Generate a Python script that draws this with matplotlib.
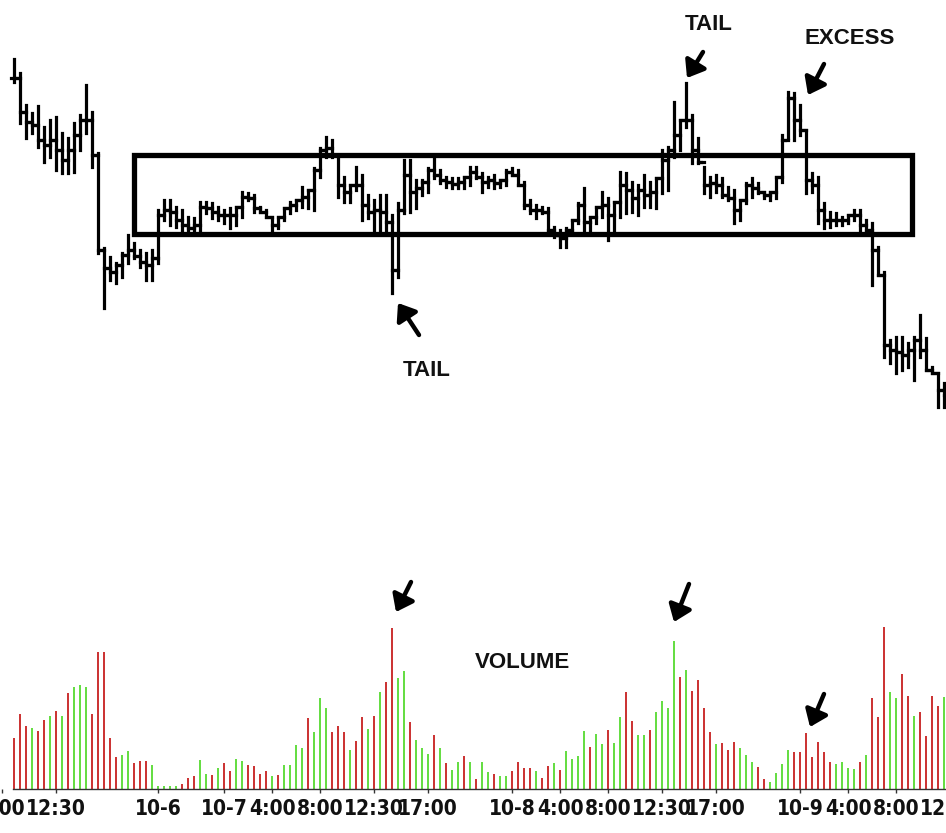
import numpy as np
import matplotlib
matplotlib.use("Agg")
import matplotlib.pyplot as plt
from matplotlib import font_manager
from matplotlib.patches import Rectangle
from matplotlib.text import Annotation

# 30-minute bars, price in points, open = previous close
high = [361, 347, 315, 307, 314, 293, 300, 303, 287, 282,
        297, 305, 335, 308, 267, 172, 163, 157, 167, 185,
        177, 170, 167, 170, 210, 220, 220, 213, 210, 203,
        202, 218, 218, 217, 213, 210, 212, 213, 228, 227,
        225, 213, 210, 203, 203, 212, 218, 220, 233, 230,
        252, 272, 283, 280, 262, 243, 235, 253, 245, 225,
        220, 225, 225, 205, 217, 260, 260, 240, 240, 252,
        263, 250, 243, 242, 242, 243, 253, 253, 247, 243,
        245, 240, 250, 252, 250, 238, 220, 215, 213, 212,
        193, 190, 192, 200, 217, 232, 203, 213, 228, 222,
        218, 248, 247, 238, 235, 245, 238, 242, 270, 273,
        318, 300, 337, 305, 282, 253, 243, 245, 242, 233,
        230, 220, 237, 242, 237, 228, 228, 243, 285, 328,
        327, 315, 290, 247, 243, 217, 208, 207, 203, 205,
        210, 210, 200, 197, 173, 148, 80, 83, 83, 77,
        83, 105, 82, 53, 47, 37]
low = [338, 297, 282, 287, 273, 258, 263, 250, 247, 247,
       248, 270, 287, 253, 167, 112, 140, 137, 143, 157,
       162, 153, 140, 140, 157, 200, 195, 193, 190, 187,
       187, 188, 207, 202, 200, 197, 192, 195, 203, 220,
       208, 208, 203, 190, 192, 200, 207, 210, 213, 212,
       210, 243, 263, 263, 223, 218, 218, 230, 200, 202,
       190, 190, 190, 127, 143, 207, 208, 212, 225, 228,
       242, 237, 233, 232, 232, 232, 235, 242, 228, 233,
       232, 233, 235, 245, 235, 212, 207, 202, 207, 188,
       183, 173, 173, 187, 197, 190, 188, 197, 203, 180,
       190, 203, 207, 208, 205, 213, 213, 212, 227, 230,
       263, 270, 293, 257, 257, 227, 223, 228, 223, 220,
       197, 200, 217, 223, 227, 222, 220, 222, 238, 282,
       280, 285, 227, 228, 197, 192, 193, 195, 195, 197,
       200, 187, 187, 135, 145, 63, 57, 47, 50, 53,
       40, 63, 50, 47, 13, 13]
close = [342, 308, 298, 295, 280, 275, 280, 270, 260, 270,
         285, 300, 300, 265, 170, 152, 148, 155, 165, 170,
         164, 158, 155, 162, 205, 210, 208, 200, 195, 192,
         195, 213, 212, 208, 205, 205, 205, 213, 223, 222,
         212, 208, 203, 195, 203, 212, 215, 220, 223, 230,
         250, 270, 272, 265, 235, 228, 235, 235, 215, 208,
         210, 208, 198, 150, 210, 245, 228, 232, 238, 250,
         245, 240, 238, 236, 238, 243, 248, 243, 238, 240,
         237, 240, 248, 245, 235, 215, 210, 210, 208, 190,
         185, 182, 190, 200, 215, 198, 203, 213, 215, 205,
         218, 235, 230, 222, 230, 225, 228, 242, 260, 270,
         285, 300, 300, 270, 258, 235, 237, 235, 225, 222,
         210, 220, 235, 232, 228, 225, 228, 243, 280, 322,
         300, 290, 240, 235, 210, 200, 200, 200, 200, 205,
         205, 195, 190, 170, 145, 75, 70, 68, 65, 70,
         80, 70, 50, 47, 30, 25]
volume = [51, 75, 63, 61, 58, 69, 73, 78, 73, 96,
          102, 104, 102, 75, 137, 137, 51, 32, 34, 38,
          26, 28, 28, 24, 3, 3, 3, 3, 5, 11,
          13, 29, 15, 14, 21, 26, 18, 30, 28, 24,
          23, 15, 18, 13, 14, 24, 24, 44, 41, 71,
          57, 91, 81, 57, 63, 57, 39, 48, 72, 60,
          73, 97, 107, 161, 111, 118, 67, 49, 41, 35,
          54, 41, 26, 19, 27, 33, 27, 10, 27, 17,
          15, 13, 13, 18, 27, 21, 21, 18, 11, 23,
          26, 19, 38, 30, 33, 58, 42, 55, 45, 59,
          46, 72, 97, 68, 54, 54, 59, 77, 88, 81,
          148, 112, 119, 98, 109, 81, 57, 45, 46, 39,
          47, 41, 34, 27, 22, 10, 7, 16, 25, 39,
          37, 37, 56, 32, 47, 37, 27, 25, 27, 21,
          20, 27, 34, 91, 72, 162, 97, 91, 115, 93,
          73, 77, 53, 93, 83, 92]
vol_side = ("rrrgrrgrgr" "gggrrrrrgg" "rrrgggggrr" "rggrgrrggr" "rrrgrggggr"
            "gggrrrgrrg" "rgrrggrggg" "rgrggrgrgg" "rggrrrrgrr" "grggggrggr"
            "ggrrggrggg" "grgrrrrgrr" "rgggrrgggg" "rrrrrrrggg" "grgrrrggrr"
            "grrrrg")

tick_pos = [-2, 7, 24, 35, 43, 51, 60, 69, 83, 91, 99, 108, 117, 131, 139, 147, 156]
tick_lab = ["8:00", "12:30", "10-6", "10-7", "4:00", "8:00", "12:30", "17:00",
            "10-8", "4:00", "8:00", "12:30", "17:00", "10-9", "4:00", "8:00", "12:30"]

# value area box (bar index / price)
box_x = (20, 149.7)
box_y = (186, 265)

# narrow bold face for the time axis, if one is installed
fonts = font_manager.fontManager.ttflist
if any(f.name == "Liberation Sans Narrow" for f in fonts):
    lab_font = dict(family="Liberation Sans Narrow", fontsize=17)
elif any(f.name == "DejaVu Sans" and "Condensed" in f.fname for f in fonts):
    lab_font = dict(family="DejaVu Sans", fontstretch="condensed", fontsize=15)
else:
    lab_font = dict(family="Liberation Sans", fontsize=14)

W, H = 946, 833
fig = plt.figure(figsize=(W / 100, H / 100), dpi=100)
fig.patch.set_facecolor("white")

x = np.arange(len(close))
xl = (-34 / 6, 952 / 6)
rect_x = (-20 / W, 986 / W)

# ---- price panel
ax = fig.add_axes([rect_x[0], (H - 420) / H, rect_x[1], 420 / H])
ax.set_xlim(*xl)
ax.set_ylim(0, 420)
ax.axis("off")
opens = np.r_[close[0], close[:-1]]
kw = dict(color="black", lw=2.3, capstyle="projecting")
ax.vlines(x, low, high, **kw)
ax.hlines(opens, x - 0.5, x, **kw)
ax.hlines(close, x, x + 0.5, **kw)
ax.add_patch(Rectangle((box_x[0], box_y[0]), box_x[1] - box_x[0], box_y[1] - box_y[0],
                       fill=False, lw=3.8, edgecolor="black", joinstyle="miter"))

# ---- volume panel
av = fig.add_axes([rect_x[0], 44 / H, rect_x[1], 189 / H])
av.set_xlim(*xl)
av.set_ylim(0, 189)
cols = ["#cc3535" if s == "r" else "#66dd44" for s in vol_side]
av.bar(x, volume, width=0.38, color=cols)
for s in ["top", "left", "right"]:
    av.spines[s].set_visible(False)
av.spines["bottom"].set_color("#333333")
av.spines["bottom"].set_linewidth(1.0)
av.spines["bottom"].set_bounds(-0.2, 158)
av.set_yticks([])
av.set_xticks(tick_pos)
av.set_xticklabels(tick_lab, fontweight="bold", color="#111111", **lab_font)
av.tick_params(axis="x", length=3, width=1, color="#333333", pad=4)

# ---- annotations
tkw = dict(family=["Liberation Sans", "DejaVu Sans"], fontweight="bold", fontsize=16,
           ha="center", va="center", color="#111111")
fig.text(709 / W, 1 - 25 / H, "TAIL", **tkw)
fig.text(850 / W, 1 - 38 / H, "EXCESS", **tkw)
fig.text(427 / W, 1 - 371 / H, "TAIL", **tkw)
fig.text(522 / W, 1 - 663 / H, "VOLUME", **tkw)

akw = dict(arrowstyle="-|>,head_length=0.6,head_width=0.45", lw=3.2, color="black",
           shrinkA=0, shrinkB=0, mutation_scale=16)
arrows = [((703, 52), (687, 78)), ((824, 64), (808, 95)), ((419, 335), (398, 303)),
          ((411, 582), (396, 612)), ((689, 584), (674, 622)), ((824, 694), (810, 727))]
for (x0, y0), (x1, y1) in arrows:
    fig.add_artist(Annotation(
        "", xy=(x1 / W, 1 - y1 / H), xytext=(x0 / W, 1 - y0 / H),
        xycoords="figure fraction", textcoords="figure fraction", arrowprops=akw))

fig.savefig("out.png", dpi=100, facecolor="white")
